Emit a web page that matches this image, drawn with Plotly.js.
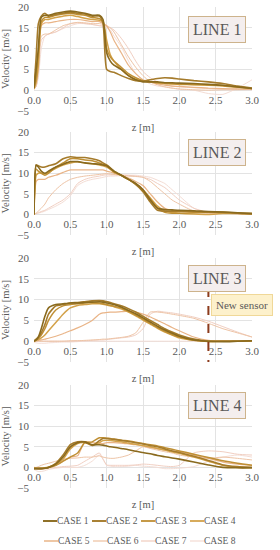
<!DOCTYPE html>
<html><head><meta charset="utf-8">
<script src="https://cdn.plot.ly/plotly-3.0.1.min.js"></script>
<style>body{margin:0;background:#fff}#c{width:280px;height:550px}</style>
</head><body><div id="c"></div>
<script>
var z = [0, 0.03, 0.06, 0.1, 0.15, 0.2, 0.3, 0.4, 0.5, 0.6, 0.7, 0.8, 0.9, 0.95, 1.0, 1.05, 1.1, 1.2, 1.3, 1.4, 1.5, 1.6, 1.7, 1.8, 1.9, 2.0, 2.2, 2.4, 2.6, 2.8, 3.0];
var caseNames = ["CASE 1","CASE 2","CASE 3","CASE 4","CASE 5","CASE 6","CASE 7","CASE 8"];
var panelNames = ["LINE 1","LINE 2","LINE 3","LINE 4"];
var sensorLabel = "New sensor";
var sensorZ = 2.4;

var line1_case1 = [0.5, 5, 10, 17.5, 18, 18, 18.5, 18.8, 19, 18.8, 18.5, 18, 18, 17, 9, 7, 6, 5, 3.5, 2.5, 2, 2, 2, 1.8, 1.8, 1.7, 1.6, 1.4, 1.2, 0.8, 0.4];
var line1_case2 = [0.5, 8, 16, 17.8, 18.5, 17.8, 18.2, 18.5, 18.7, 18.5, 18.3, 17.8, 17.8, 16, 5, 4.5, 4.3, 3.5, 2.8, 2.3, 2.2, 2.5, 2.8, 3, 2.9, 2.7, 2.3, 2, 1.6, 1, 0.5];
var line1_case3 = [0.5, 3, 9, 16.5, 17.5, 17.5, 18, 18.3, 18.5, 18.2, 18, 17.5, 17.2, 16.5, 10, 8, 7, 5.5, 4, 3, 2.3, 2, 1.8, 1.7, 1.6, 1.5, 1.4, 1.3, 1.1, 0.8, 0.4];
var line1_case4 = [0.3, 2, 6, 16, 17, 17, 17.5, 17.8, 18, 17.7, 17.3, 17, 16.8, 16.5, 12, 8.5, 7, 5, 3.5, 2.6, 2.2, 2, 1.8, 1.6, 1.5, 1.4, 1.3, 1.2, 1, 0.7, 0.4];
var line1_case5 = [0.3, 2, 8, 15.5, 16.2, 16.2, 16.5, 16.8, 17, 17, 16.8, 16.5, 16.5, 16, 15.5, 14, 12, 9, 6, 4, 2.5, 2, 1.5, 1.2, 1, 0.9, 0.7, 0.5, 0.4, 0.3, 0.2];
var line1_case6 = [0.2, 1, 5, 13, 13.5, 13.5, 14.5, 15.5, 16, 16.3, 16.2, 16, 16, 15.8, 15.5, 15, 14, 11, 8, 5.5, 3.5, 2, 1.3, 0.8, 0.5, 0.3, 0.1, 0, 0.1, 0.1, 0.2];
var line1_case7 = [0.2, 1, 4, 12, 13, 13.5, 14, 15, 16, 16.2, 16, 15.8, 15.5, 15.5, 15.3, 15, 14.5, 12.5, 10, 7, 4.5, 3, 2, 1.5, 1, 0.8, 0.6, 0.4, 0.3, 0.2, 0.1];
var line1_case8 = [0.2, 1, 3, 10, 13, 13.5, 14, 14.8, 15.5, 16, 16, 15.8, 15.5, 15.3, 15, 14.5, 13, 10.5, 7, 4, 2.5, 1.5, 1, 0.8, 0.5, 0.2, 0, -0.8, -1, 0.5, 2.5];

var line2_case1 = [0, 12, 11.5, 10.5, 10, 10.5, 11.5, 12.2, 12.8, 12.8, 12.5, 12.3, 12.2, 12, 11.8, 11.2, 10.5, 9.5, 8.5, 7.5, 6, 3.5, 1.5, 1.2, 1.1, 1, 0.9, 0.7, 0.6, 0.4, 0.2];
var line2_case2 = [0, 12, 11.8, 11.5, 11.5, 11.8, 12.3, 13.5, 14, 13.8, 13.8, 13.5, 13, 12.5, 12, 11.3, 10.5, 9.5, 8.5, 7.3, 5.5, 3, 1, 0.8, 0.8, 0.8, 0.7, 0.6, 0.5, 0.3, 0.2];
var line2_case3 = [0, 11, 10.5, 10, 9.5, 10, 11.5, 12.5, 13.5, 13.5, 13.2, 13, 12.5, 12.2, 11.8, 11, 10.3, 9.5, 8.5, 7.3, 5.8, 3.8, 1.5, 0.5, 0.3, 0.3, 0.4, 0.5, 0.5, 0.3, 0.2];
var line2_case4 = [0, 9.5, 10, 10, 9.8, 10.2, 11.2, 12, 12.5, 12.8, 12.5, 12.3, 12, 11.8, 11.5, 11, 10.2, 9.5, 8.5, 7.5, 6, 4, 2, 0.8, 0.5, 0.3, 0.1, 0, 0.2, 0.2, 0.1];
var line2_case5 = [0, 8, 8.5, 8.5, 8.5, 9, 9.5, 10.2, 10.8, 10.8, 10.8, 10.8, 10.8, 10.8, 10.5, 10.3, 10, 9.5, 8.8, 8, 7, 5, 3, 1.5, 1, 0.8, 0.5, 0.4, 0.3, 0.2, 0.1];
var line2_case6 = [0, 0.3, 0.8, 1.5, 2.5, 4, 6, 7.5, 8.5, 9, 9.3, 9.5, 9.7, 9.8, 9.9, 9.8, 9.7, 9.5, 9.3, 9.2, 9, 8, 6.5, 5, 3.5, 2.5, 0.8, 0.3, 0.3, 0.2, 0.1];
var line2_case7 = [0, 0.2, 0.4, 0.7, 1, 1.5, 2.5, 3.5, 5, 7.5, 8.5, 9, 9.3, 9.5, 9.6, 9.6, 9.6, 9.6, 9.5, 9.3, 9, 8.5, 7.5, 6.5, 5, 3.5, 1.5, 0.5, 0.3, 0.2, 0.1];
var line2_case8 = [0, 0.2, 0.3, 0.5, 0.8, 1.2, 2, 3, 4.5, 7, 8, 8.5, 8.8, 9, 9.2, 9.3, 9.3, 9.4, 9.5, 9.5, 9.3, 9, 8.3, 7.5, 6, 4.5, 1.5, 0.3, 0.2, 0.2, 0.1];

var line3_case1 = [0, 0.3, 1, 3, 6, 8, 8.8, 9, 9.2, 9.2, 9.3, 9.4, 9.5, 9.4, 9.2, 9, 8.8, 8.2, 7.4, 6.6, 5.6, 4.6, 3.6, 2.7, 1.9, 1.2, 0.3, 0, -0.1, 0, 0.1];
var line3_case2 = [0, 0.5, 1, 2, 4, 6.5, 8.5, 8.8, 9.2, 9.3, 9.5, 9.7, 9.8, 9.7, 9.5, 9.3, 9, 8.5, 7.8, 7, 6, 5, 4, 3, 2.2, 1.5, 0.5, 0, 0, 0, 0.1];
var line3_case3 = [0, 0.3, 0.7, 1.5, 3, 5, 7.5, 8.5, 8.8, 9, 9.2, 9.3, 9.2, 9, 8.8, 8.6, 8.4, 8, 7.2, 6.3, 5.3, 4.3, 3.3, 2.4, 1.6, 1, 0.2, -0.1, 0, 0, 0.1];
var line3_case4 = [0, 0.2, 0.4, 0.8, 1.5, 2.5, 4.5, 6.5, 8, 8.6, 8.8, 9, 9, 8.9, 8.7, 8.5, 8.3, 7.8, 7, 6.1, 5.1, 4.1, 3.1, 2.2, 1.5, 0.8, 0.2, 0, 0, 0, 0.1];
var line3_case5 = [0, 0.1, 0.2, 0.3, 0.5, 0.7, 1.2, 1.8, 2.5, 3.2, 4, 5, 6.5, 6.8, 6.9, 7, 7, 7.1, 7.2, 7, 6.5, 5.8, 5, 4.2, 3.3, 2.5, 1, 0.2, 0, 0, 0.1];
var line3_case6 = [0, 0, 0, 0, 0, 0, 0, 0, 0.1, 0.1, 0.2, 0.3, 0.4, 0.5, 0.5, 0.6, 0.7, 0.9, 1.2, 2, 4.5, 7, 7, 6.8, 6.5, 6.2, 5.5, 4.3, 3, 2, 1];
var line3_case7 = [0, 0, 0, 0, 0, 0, 0, 0, 0, 0.1, 0.1, 0.2, 0.3, 0.3, 0.4, 0.5, 0.6, 0.8, 1, 1.5, 3, 6.5, 7.2, 7, 6.8, 6.5, 5.8, 4.8, 3.5, 2.2, 1];
var line3_case8 = [-0.3, -0.4, -0.5, -0.5, -0.5, -0.4, -0.3, -0.2, -0.2, -0.1, 0, 0, 0, 0, 0, 0, 0, 0, 0, 0, 0, 0, 0, 0, 0, 0, 0, 0, 0, 0, 0];

var line4_case1 = [-0.3, -0.3, -0.3, -0.3, -0.2, 0, 0.8, 2.5, 5, 6, 6.2, 5.5, 5.5, 5.4, 5.2, 5, 4.9, 4.6, 4.3, 3.9, 3.6, 3.3, 2.9, 2.6, 2.3, 2, 1.3, 0.6, 0, -0.1, -0.1];
var line4_case2 = [-0.3, -0.3, -0.3, -0.3, -0.2, 0, 1, 3, 5.5, 6.2, 6.2, 5.3, 6.5, 7, 7, 6.9, 6.8, 6.6, 6.3, 6, 5.7, 5.3, 5, 4.5, 4, 3.6, 2.7, 1.7, 0.6, 0.2, 0];
var line4_case3 = [-0.2, -0.2, -0.2, -0.2, -0.1, 0, 0.5, 1.5, 2.5, 3.5, 6, 6.2, 7.2, 7.2, 7.1, 7, 6.9, 6.6, 6.4, 6.1, 5.8, 5.5, 5.2, 4.8, 4.4, 4, 3.2, 2.4, 1.6, 1, 0.5];
var line4_case4 = [-0.2, -0.2, -0.2, -0.2, -0.1, 0.1, 0.7, 2, 4.5, 5.8, 6, 5.5, 6, 6.5, 6.6, 6.5, 6.4, 6.2, 5.9, 5.6, 5.3, 5, 4.6, 4.2, 3.8, 3.4, 2.5, 1.5, 0.5, 0, -0.1];
var line4_case5 = [0, -0.2, -0.3, -0.3, -0.2, 0, 0.5, 1.5, 2.5, 2.8, 6.2, 6, 5.8, 5.8, 6, 6, 6, 5.9, 5.7, 5.5, 5.2, 4.8, 4.5, 4.2, 4, 3.8, 3, 2.2, 1.3, 0.8, 0.5];
var line4_case6 = [0, 0, 0.2, 0.5, 0.8, 1, 1.5, 2, 2.2, 2.3, 2.5, 2.5, 2.8, 2.5, 2.3, 2.2, 2.2, 2.5, 3, 4, 5, 4.6, 4.2, 3.8, 3.5, 3, 2.5, 2.2, 2.5, 2.2, 1.8];
var line4_case7 = [0, -0.3, -0.5, -0.5, -0.4, -0.2, 0, 0.2, 0.3, 0.5, 1.5, 2.5, 3.5, 2, 0.6, 0.5, 0.5, 0.5, 0.5, 0.6, 0.8, 0.7, 0.5, 0.3, 0.2, 0.5, 3.5, 4, 3.8, 3.2, 3];
var line4_case8 = [-0.5, -0.8, -1, -1, -0.8, -0.5, -0.2, 0, 0, 0, 0.5, 1.5, 3, 2, 0.5, 0.3, 0.2, 0.2, 0.3, 0.5, 0.3, 0.2, 0, -0.3, -0.3, -0.2, 0.2, 1.5, 2.5, 3, 2.5];

var panels = [
  [line1_case1, line1_case2, line1_case3, line1_case4, line1_case5, line1_case6, line1_case7, line1_case8],
  [line2_case1, line2_case2, line2_case3, line2_case4, line2_case5, line2_case6, line2_case7, line2_case8],
  [line3_case1, line3_case2, line3_case3, line3_case4, line3_case5, line3_case6, line3_case7, line3_case8],
  [line4_case1, line4_case2, line4_case3, line4_case4, line4_case5, line4_case6, line4_case7, line4_case8]
];

// styling
var W = 280, H = 550;
var colors = ["#8a6a1e", "#a57b2b", "#bf8f34", "#d3a24a", "#e9b487", "#eec4a6", "#f1cfc2", "#f4ddd5"];
var widths = [1.6, 1.6, 1.5, 1.5, 1.2, 1.0, 1.0, 1.0];
var FONT = "Liberation Serif";
var GRAY = "#595959";
function px(v){ return v / W; }
function py(v){ return 1 - v / H; }
var plotL = 34, plotR = 252;
var panelTop = [7, 132, 258, 385];
var panelBot = [111, 235, 362, 488];

var traces = [];
var layout = {
  width: W, height: H,
  margin: {l:0, r:0, t:0, b:0},
  paper_bgcolor: "#fff", plot_bgcolor: "#fff",
  showlegend: false,
  font: {family: FONT, color: GRAY, size: 10},
  annotations: [], shapes: []
};
for (var p = 0; p < 4; p++) {
  var sfx = p === 0 ? "" : String(p + 1);
  for (var c = 7; c >= 0; c--) {
    traces.push({
      type: "scatter", mode: "lines", x: z, y: panels[p][c],
      xaxis: "x" + sfx, yaxis: "y" + sfx, name: caseNames[c],
      line: {color: colors[c], width: widths[c], shape: "spline", smoothing: 0.6},
      hoverinfo: "skip"
    });
  }
  var zeroPx = panelTop[p] + (panelBot[p] - panelTop[p]) * 20 / 25;
  layout["xaxis" + sfx] = {
    domain: [px(plotL), px(plotR)], range: [0, 3], dtick: 0.5, tickformat: ".1f",
    anchor: "free", position: py(zeroPx), showgrid: true, gridcolor: "#e3e3e3", gridwidth: 1,
    zeroline: false, showline: false, ticks: "", ticklabelstandoff: 2,
    tickfont: {family: FONT, color: GRAY, size: 11},
    title: {text: "z [m]", font: {family: FONT, color: GRAY, size: 10.5}, standoff: 18}
  };
  layout["yaxis" + sfx] = {
    domain: [py(panelBot[p]), py(panelTop[p])], range: [-5, 20], dtick: 5,
    anchor: "x" + sfx, showgrid: true, gridcolor: "#e3e3e3", gridwidth: 1,
    zeroline: false, showline: false, ticks: "", ticklabelstandoff: 4,
    tickfont: {family: FONT, color: GRAY, size: 11},
    title: {text: "Velocity [m/s]", font: {family: FONT, color: GRAY, size: 10.5}, standoff: 6}
  };
  layout.annotations.push({
    xref: "x" + sfx, yref: "y" + sfx, x: 2.52, y: p === 0 ? 14.5 : 15,
    text: panelNames[p], showarrow: false,
    font: {family: FONT, color: GRAY, size: 16},
    bgcolor: "#f4eeee", bordercolor: "#cdb38c", borderwidth: 1, borderpad: 4
  });
}
// new sensor marker on LINE 3
layout.shapes.push({type: "line", xref: "x3", yref: "y3", x0: sensorZ, x1: sensorZ, y0: 12.8, y1: -5,
  line: {color: "#8c3b1c", width: 2, dash: "dash"}});
layout.annotations.push({xref: "x3", yref: "y3", x: 2.86, y: 8.7, text: sensorLabel, showarrow: false,
  font: {family: FONT, color: GRAY, size: 11}, bgcolor: "#fdf1cc", bordercolor: "#f0d898", borderwidth: 1, borderpad: 4});

// custom legend (two rows of four)
var legX = [[43, 92, 141, 190], [44, 93, 141, 190]];
var legY = [521, 541];
for (var i = 0; i < 8; i++) {
  var r = Math.floor(i / 4), k = i % 4;
  var x0 = legX[r][k];
  layout.shapes.push({type: "line", xref: "paper", yref: "paper",
    x0: px(x0), x1: px(x0 + 14), y0: py(legY[r]), y1: py(legY[r]),
    line: {color: colors[i], width: widths[i] + 0.3}});
  layout.annotations.push({xref: "paper", yref: "paper", x: px(x0 + 14), y: py(legY[r]),
    xanchor: "left", yanchor: "middle", text: caseNames[i], showarrow: false,
    font: {family: FONT, color: GRAY, size: 9.5}, borderpad: 0, borderwidth: 0});
}

Plotly.newPlot("c", traces, layout, {staticPlot: true, displayModeBar: false});
</script></body></html>
